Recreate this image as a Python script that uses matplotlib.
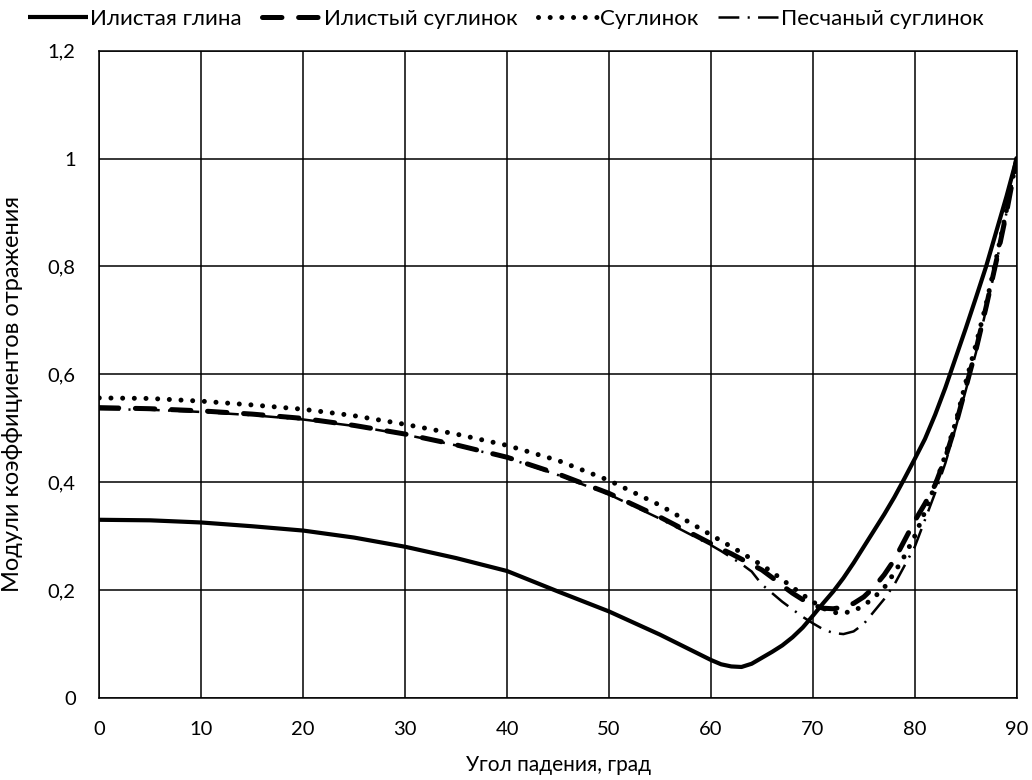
import matplotlib
matplotlib.use("Agg")
import matplotlib.pyplot as plt
from matplotlib.ticker import FuncFormatter

plt.rcParams['font.family'] = ['Lato', 'DejaVu Sans']
plt.rcParams['lines.scale_dashes'] = False

# angles, degrees
angle_coarse = [0, 5, 10, 15, 20, 25, 30, 35, 40, 45, 50, 55]
angle_fine = [60, 61, 62, 63, 64, 65, 66, 67, 68, 69, 70, 71, 72, 73, 74, 75,
              76, 77, 78, 79, 80, 81, 82, 83, 84, 85, 86, 87, 88, 89, 90]
angles = angle_coarse + angle_fine

silty_clay = [0.330, 0.329, 0.325, 0.318, 0.310, 0.297, 0.280, 0.259, 0.235, 0.197, 0.160, 0.117,
              0.070, 0.062, 0.058, 0.057, 0.063, 0.074, 0.085, 0.097, 0.112, 0.130, 0.152, 0.175,
              0.197, 0.222, 0.250, 0.280, 0.310, 0.340, 0.372, 0.407, 0.443, 0.480, 0.525, 0.575,
              0.630, 0.685, 0.742, 0.800, 0.865, 0.930, 1.000]
silty_loam = [0.538, 0.536, 0.532, 0.526, 0.518, 0.505, 0.489, 0.469, 0.446, 0.415, 0.379, 0.335,
              0.286, 0.276, 0.267, 0.257, 0.247, 0.237, 0.223, 0.208, 0.194, 0.182, 0.172, 0.166,
              0.165, 0.168, 0.175, 0.187, 0.205, 0.228, 0.256, 0.292, 0.328, 0.360, 0.395, 0.445,
              0.505, 0.575, 0.645, 0.725, 0.810, 0.900, 1.000]
loam = [0.556, 0.555, 0.550, 0.543, 0.535, 0.523, 0.507, 0.489, 0.468, 0.440, 0.403, 0.357,
        0.302, 0.291, 0.280, 0.269, 0.257, 0.246, 0.233, 0.219, 0.205, 0.191, 0.178, 0.166,
        0.158, 0.157, 0.161, 0.171, 0.186, 0.204, 0.232, 0.263, 0.300, 0.345, 0.395, 0.450,
        0.510, 0.585, 0.655, 0.730, 0.815, 0.905, 1.000]
sandy_loam = [0.535, 0.534, 0.530, 0.524, 0.516, 0.504, 0.488, 0.468, 0.445, 0.413, 0.377, 0.332,
              0.283, 0.272, 0.260, 0.248, 0.234, 0.210, 0.194, 0.178, 0.164, 0.150, 0.138, 0.127,
              0.120, 0.118, 0.123, 0.137, 0.160, 0.183, 0.210, 0.245, 0.280, 0.330, 0.380, 0.435,
              0.500, 0.570, 0.640, 0.720, 0.805, 0.900, 1.000]

labels = ['Илистая глина', 'Илистый суглинок', 'Суглинок', 'Песчаный суглинок']

fig = plt.figure(figsize=(10.32, 7.8), dpi=100)
ax = fig.add_axes([0.0962, 0.1055, 0.889, 0.8295])

ax.plot(angles, silty_clay, color='black', lw=3.0, solid_capstyle='butt', label=labels[0])
ax.plot(angles, silty_loam, color='black', lw=3.6, linestyle=(0, (14, 12)),
        dash_capstyle='round', label=labels[1])
ax.plot(angles, loam, color='black', lw=3.6, linestyle=(0, (0.01, 8.4)),
        dash_capstyle='round', label=labels[2])
ax.plot(angles, sandy_loam, color='black', lw=1.8, linestyle=(0, (15, 6, 1.5, 6)),
        label=labels[3])

ax.set_xlim(0, 90)
ax.set_ylim(0, 1.2)
ax.set_xticks(range(0, 91, 10))
ax.set_yticks([0, 0.2, 0.4, 0.6, 0.8, 1.0, 1.2])
ax.yaxis.set_major_formatter(FuncFormatter(lambda v, p: f"{v:g}".replace('.', ',')))
ax.grid(True, color='black', lw=1.1)
ax.set_axisbelow(True)
for s in ax.spines.values():
    s.set_color('black')
    s.set_linewidth(1.1)
ax.tick_params(length=0, labelsize=14.5, pad=17)

ax.set_xlabel('Угол падения, град', fontsize=15, labelpad=12)
ax.set_ylabel('Модули коэффициентов отражения', fontsize=17)
ax.yaxis.set_label_coords(-0.083, 0.47)

fig.legend(loc='center', bbox_to_anchor=(0.49, 0.976), ncol=4, frameon=False,
           fontsize=16, handlelength=2.7, handletextpad=0.1, columnspacing=0.9)

fig.savefig('out.png', dpi=100)
